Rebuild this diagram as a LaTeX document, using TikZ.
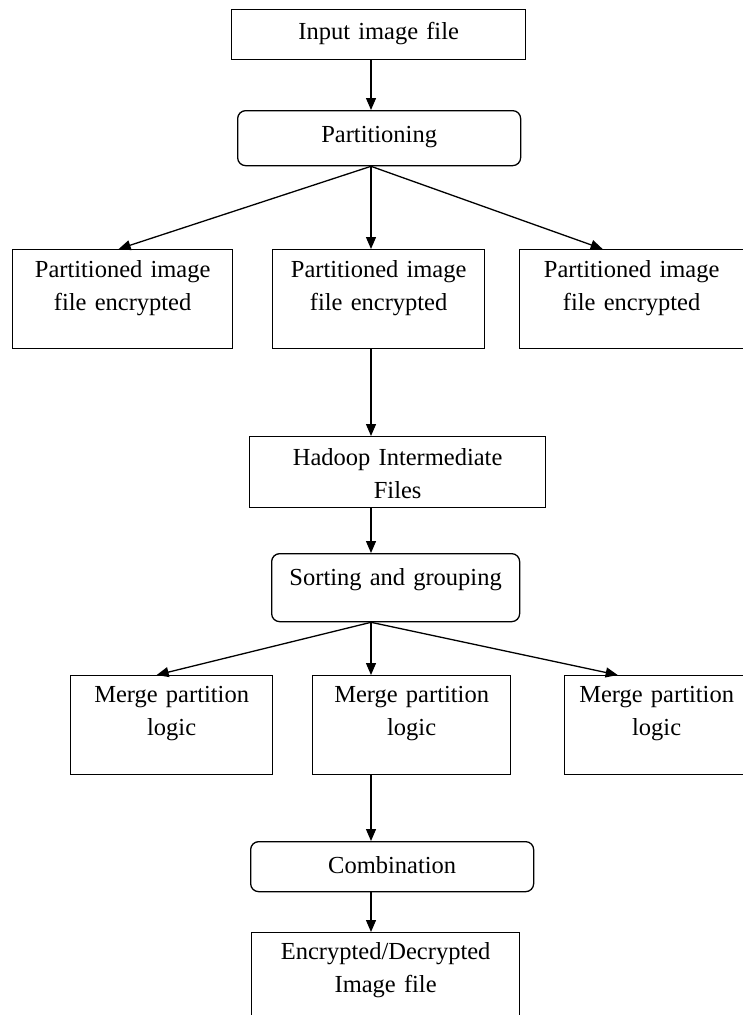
\documentclass[tikz,border=0pt]{standalone}
\usepackage{fontspec}
\setmainfont{Liberation Serif}
\usetikzlibrary{arrows.meta}

\begin{document}
\begin{tikzpicture}[x=1pt, y=-1pt,
        >={Triangle[length=12pt,width=10pt]},
        every node/.style={font=\fontsize{24.5}{33}\selectfont},
        box/.style n args={3}{draw, line width=1.3pt, anchor=north west, inner sep=0pt,
          align=center, text width=#1, text height=#2, text depth=#3},
        rbox/.style n args={3}{box={#1}{#2}{#3}, rounded corners=8pt},
        flow/.style={->, line width=1.3pt}]

        \useasboundingbox (0,0) rectangle (742,1015);
        \coordinate (spine) at (371,0);

        % Input and partitioning
        \node[box={294pt}{30pt}{20pt}] (input) at (231,9) {Input image file};
        \node[rbox={283pt}{32pt}{23pt}] (part) at (237,110) {Partitioning};

        % Encrypted partitions
        \node[box={220pt}{28pt}{71pt}] (enc1) at (12,249) {Partitioned image\\file encrypted};
        \node[box={212pt}{28pt}{71pt}] (enc2) at (272,249) {Partitioned image\\file encrypted};
        \node[box={224pt}{28pt}{71pt}] (enc3) at (519,249) {Partitioned image\\file encrypted};

        % Hadoop and sorting
        \node[box={296pt}{29pt}{42pt}] (had) at (249,436) {Hadoop Intermediate\\Files};
        \node[rbox={248pt}{32pt}{36pt}] (sort) at (271,553) {Sorting and grouping};

        % Merge logic
        \node[box={202pt}{27pt}{72pt}] (merge1) at (70,675) {Merge partition\\logic};
        \node[box={198pt}{27pt}{72pt}] (merge2) at (312,675) {Merge partition\\logic};
        \node[box={184pt}{27pt}{72pt}] (merge3) at (564,675) {Merge partition\\logic};

        % Combination and result
        \node[rbox={283pt}{32pt}{18pt}] (comb) at (250,841) {Combination};
        \node[box={268pt}{27pt}{73pt}] (out) at (251,932) {Encrypted/Decrypted\\Image file};

        % Connectors
        \draw[flow] (input.south -| spine) -- (part.north -| spine);
        \draw[flow] (part.south -| spine) -- ([xshift=-4pt]enc1.north);
        \draw[flow] (part.south -| spine) -- (enc2.north -| spine);
        \draw[flow] (part.south -| spine) -- ([xshift=-29pt]enc3.north);
        \draw[flow] (enc2.south -| spine) -- (had.north -| spine);
        \draw[flow] (had.south -| spine) -- (sort.north -| spine);
        \draw[flow] (sort.south -| spine) -- ([xshift=-15pt]merge1.north);
        \draw[flow] (sort.south -| spine) -- (merge2.north -| spine);
        \draw[flow] (sort.south -| spine) -- ([xshift=-39pt]merge3.north);
        \draw[flow] (merge2.south -| spine) -- (comb.north -| spine);
        \draw[flow] (comb.south -| spine) -- (out.north -| spine);

\end{tikzpicture}
\end{document}
